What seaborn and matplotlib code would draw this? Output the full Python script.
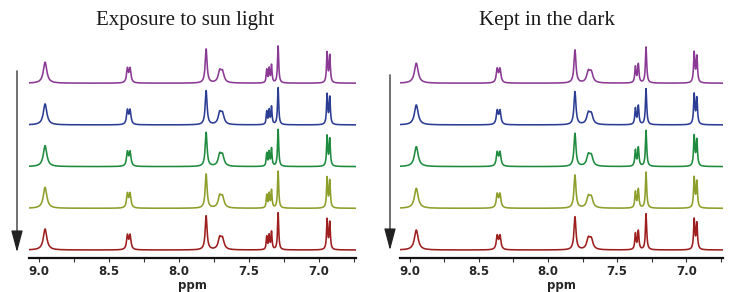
import numpy as np
import pandas as pd
import matplotlib
matplotlib.use("Agg")
import matplotlib.pyplot as plt
import matplotlib.ticker as mticker
import seaborn as sns

sns.set_style("white")
plt.rcParams["font.family"] = "DejaVu Sans"

# ---- data ----
panel_titles = ["Exposure to sun light", "Kept in the dark"]
samples = ["t1", "t2", "t3", "t4", "t5"]          # top -> bottom
trace_colors = ["#8a3a94", "#2c3e94", "#1f8b3f", "#8e9e2a", "#9e1f1f"]
trace_step = 41.7                                   # vertical offset between traces (a.u.)

# peak lists: (ppm, height a.u., half width ppm)
light_ppm = [8.955, 8.367, 8.348, 7.805, 7.708, 7.688, 7.372, 7.355, 7.338, 7.291, 6.941, 6.922]
light_height = [21, 14, 14, 34, 11, 10, 13, 14, 17.5, 37, 30, 27]
light_width = [0.015, 0.0075, 0.0075, 0.008, 0.013, 0.013, 0.0045, 0.0045, 0.0045, 0.005, 0.005, 0.005]

dark_ppm = [8.952, 8.367, 8.347, 7.805, 7.708, 7.687, 7.368, 7.347, 7.291, 6.943, 6.924]
dark_height = [20, 13.5, 13.5, 33, 10.5, 9.5, 16, 18.5, 36, 30, 26]
dark_width = [0.016, 0.008, 0.008, 0.0085, 0.014, 0.014, 0.0055, 0.0055, 0.0055, 0.0055, 0.0055]

ppm_axis = np.arange(6.70, 9.10, 0.0005)


def spectrum(ppm, height, width):
    y = np.zeros_like(ppm_axis)
    for p, h, w in zip(ppm, height, width):
        y += h * w ** 2 / ((ppm_axis - p) ** 2 + w ** 2)
    return y


def long_table(ppm, height, width):
    base = spectrum(ppm, height, width)
    rows = []
    for i, s in enumerate(samples):
        off = (len(samples) - 1 - i) * trace_step
        rows.append(pd.DataFrame({"ppm": ppm_axis, "y": base + off, "sample": s}))
    return pd.concat(rows, ignore_index=True)


tables = [long_table(light_ppm, light_height, light_width),
          long_table(dark_ppm, dark_height, dark_width)]

# ---- figure ----
W, H = 732, 292
fig = plt.figure(figsize=(W / 100, H / 100), dpi=100)
ax_pos = [(29, 327), (400, 323)]
axes = []
for (x0, w) in ax_pos:
    axes.append(fig.add_axes([x0 / W, (H - 258) / H, w / W, (258 - 40) / H]))

title_x = [0.477, 0.455]
for ax, df, title, tx in zip(axes, tables, panel_titles, title_x):
    sns.lineplot(data=df, x="ppm", y="y", hue="sample", hue_order=samples,
                 palette=trace_colors, estimator=None, sort=False, legend=False,
                 lw=1.15, ax=ax)
    ax.set_xlim(9.07, 6.735)
    ax.set_ylim(-8, 210)
    ax.set_yticks([])
    ax.set_ylabel("")
    for sp in ["left", "right", "top"]:
        ax.spines[sp].set_visible(False)
    ax.spines["bottom"].set_linewidth(1.6)
    ax.spines["bottom"].set_color("#111111")
    ax.set_xticks([9.0, 8.5, 8.0, 7.5, 7.0])
    ax.set_xticklabels(["9.0", "8.5", "8.0", "7.5", "7.0"], fontweight="bold")
    ax.xaxis.set_minor_locator(mticker.MultipleLocator(0.25))
    ax.tick_params(axis="x", which="both", direction="out", length=3, width=0.8,
                   pad=2, labelsize=8.5, bottom=True, color="#333333")
    ax.set_xlabel("ppm", fontsize=8.5, fontweight="bold", labelpad=1)
    ax.set_title(title, x=tx, y=1.0, pad=11, fontsize=15,
                 family="Liberation Serif", color="#1a1a1a")

# downward arrows at the left of each panel
for ax_x, y_tail, y_tip in [(17, 68, 255), (390, 72, 253)]:
    fig.add_artist(matplotlib.patches.FancyArrowPatch(
        (ax_x / W, 1 - y_tail / H), (ax_x / W, 1 - y_tip / H),
        transform=fig.transFigure, arrowstyle="-|>,head_length=1.35,head_width=0.36",
        mutation_scale=10, lw=0.9, color="#222222"))

fig.savefig("out.png", dpi=100)
